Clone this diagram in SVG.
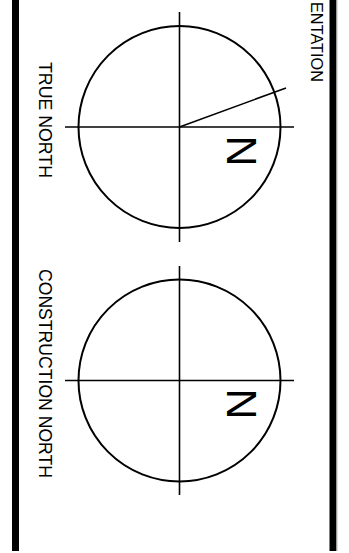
<svg xmlns="http://www.w3.org/2000/svg" width="349" height="553" viewBox="0 0 349 553">
<style>
.bar{fill:#000}
.ring{fill:none;stroke:#000;stroke-width:2}
.axis{fill:none;stroke:#000;stroke-width:1.6}
.lbl{font-family:"Liberation Sans",Arial,sans-serif;fill:#000}
</style>
<rect width="349" height="553" fill="#fff"/>
<g id="frame">
<rect class="bar" x="12" y="0" width="7" height="551"/>
<rect class="bar" x="329.5" y="0" width="7" height="551"/>
<line x1="337" y1="0" x2="337" y2="551" stroke="#bbb" stroke-width="1"/>
</g>
<g id="title">
<text class="lbl" font-size="16" textLength="80" lengthAdjust="spacingAndGlyphs" transform="translate(311,2) rotate(90)">ENTATION</text>
</g>
<g id="true-north">
<text class="lbl" font-size="19" textLength="116" lengthAdjust="spacingAndGlyphs" transform="translate(39,62) rotate(90)">TRUE NORTH</text>
<circle class="ring" cx="179.5" cy="127" r="101"/>
<text class="lbl" font-size="43" text-anchor="middle" transform="translate(227,151) rotate(90)">N</text>
</g>
<g id="construction-north">
<text class="lbl" font-size="19" textLength="209" lengthAdjust="spacingAndGlyphs" transform="translate(39,269) rotate(90)">CONSTRUCTION NORTH</text>
<circle class="ring" cx="179.5" cy="380.5" r="101"/>
<text class="lbl" font-size="43" text-anchor="middle" transform="translate(227,404) rotate(90)">N</text>
</g>
<g id="connectors">
<line class="axis" x1="65" y1="127" x2="294" y2="127"/>
<line class="axis" x1="179.5" y1="12" x2="179.5" y2="242"/>
<line class="axis" x1="179.5" y1="127" x2="286" y2="88"/>
<line class="axis" x1="65" y1="380.5" x2="294" y2="380.5"/>
<line class="axis" x1="179.5" y1="266" x2="179.5" y2="495"/>
</g>
</svg>
